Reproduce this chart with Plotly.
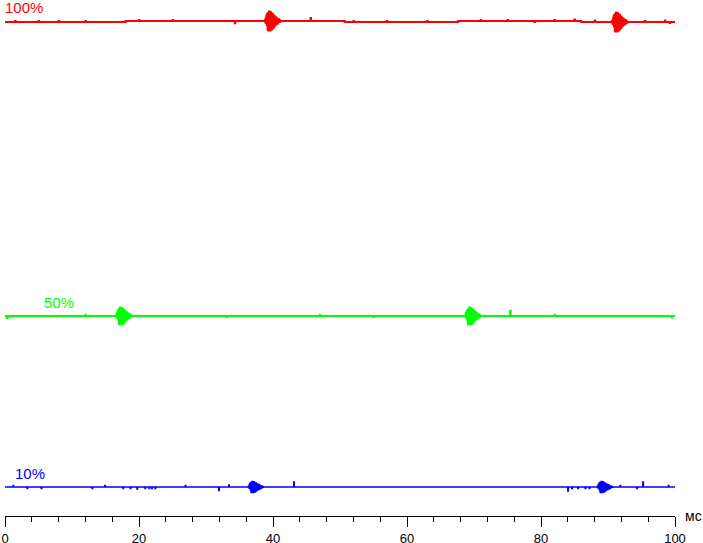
import plotly.graph_objects as go

# ---------------- data (time in ms, signal level in arbitrary units) ----------------
series_names = ["100%", "50%", "10%"]
series_colors = ["#FF0000", "#00FF00", "#0000FF"]

# baseline level, held as steps: (start time, level)
red_step_t = [0, 18.0, 50.7, 67.6, 86.0]
red_step_v = [98.8, 99.0, 98.8, 99.0, 98.8]
green_step_t = [0]
green_step_v = [40.0]
blue_step_t = [0]
blue_step_v = [5.8]

# start times of the flicker bursts
red_burst_t = [38.8, 90.6]
green_burst_t = [16.6, 68.7]
blue_burst_t = [36.3, 88.4]
# burst peak amplitude
red_burst_amp = 1.9
green_burst_amp = 1.7
blue_burst_amp = 1.1
burst_length_ms = 2.3
# normalised burst waveform (alternating samples)
burst_shape = [0.1, -0.15, 0.35, -0.2, 0.6, -0.45, 0.8, -0.9, 0.7, -1.0, 1.0, -0.8,
               0.9, -1.0, 0.95, -0.7, 0.85, -0.9, 0.6, -0.8, 0.75, -0.55, 0.5, -0.65,
               0.55, -0.4, 0.3, -0.45, 0.4, -0.25, 0.3, -0.3, 0.15, -0.25, 0.2, -0.1,
               0.15, -0.1, 0.06, -0.05]

# small isolated spikes: time, offset from baseline
red_spike_t = [1.5, 5.0, 8.0, 12.0, 20.0, 25.0, 34.3, 45.6, 52.0, 57.0, 63.0, 71.0,
               75.0, 79.0, 82.0, 85.0, 88.0, 95.5, 98.5, 99.2]
red_spike_v = [0.2, 0.2, 0.2, 0.2, 0.2, 0.2, -0.45, 0.6, 0.2, 0.2, 0.2, 0.2,
               0.2, -0.2, 0.2, 0.3, 0.3, 0.2, 0.3, -0.2]
green_spike_t = [0.3, 12.0, 33.0, 47.0, 55.0, 75.4, 82.0, 99.5]
green_spike_v = [-0.4, 0.2, -0.2, 0.2, -0.2, 1.0, 0.2, -0.3]
blue_spike_t = [1.2, 3.3, 5.4, 13.0, 14.9, 17.6, 18.7, 19.7, 20.9, 21.5, 21.9, 22.4,
                26.9, 31.9, 33.4, 43.1, 84.0, 84.6, 85.5, 86.6, 87.2, 91.8, 94.3, 95.2, 99.0]
blue_spike_v = [0.3, -0.3, -0.3, -0.3, 0.3, -0.3, -0.3, -0.4, -0.3, -0.3, -0.3, -0.3,
                0.3, -0.7, 0.4, 1.0, -0.8, -0.3, -0.3, -0.3, -0.3, 0.3, -0.3, 1.0, 0.3]

x_tick_vals = [0, 20, 40, 60, 80, 100]
x_tick_text = ["0", "20", "40", "60", "80", "100"]
x_unit = "мс"

T_END = 100.0


def level_at(t, step_t, step_v):
    lv = step_v[0]
    for st, sv in zip(step_t, step_v):
        if st <= t:
            lv = sv
    return lv


def build(step_t, step_v, burst_t, amp, spike_t, spike_v):
    pts = [(st, sv) for st, sv in zip(step_t, step_v)]
    for t, d in zip(spike_t, spike_v):
        base = level_at(t, step_t, step_v)
        pts.append((t, base + d))
        pts.append((t + 0.08, base))
    dt = burst_length_ms / len(burst_shape)
    for t0 in burst_t:
        base = level_at(t0, step_t, step_v)
        for k, s in enumerate(burst_shape):
            pts.append((t0 + k * dt, base + amp * s))
        pts.append((t0 + len(burst_shape) * dt, base))
    pts.append((T_END, level_at(T_END, step_t, step_v)))
    pts.sort(key=lambda p: p[0])
    return [p[0] for p in pts], [p[1] for p in pts]


series = [
    build(red_step_t, red_step_v, red_burst_t, red_burst_amp, red_spike_t, red_spike_v),
    build(green_step_t, green_step_v, green_burst_t, green_burst_amp, green_spike_t, green_spike_v),
    build(blue_step_t, blue_step_v, blue_burst_t, blue_burst_amp, blue_spike_t, blue_spike_v),
]
widths = [2, 2, 1.5]

fig = go.Figure()
for (xs, ys), name, col, w in zip(series, series_names, series_colors, widths):
    fig.add_trace(go.Scatter(x=xs, y=ys, mode="lines", name=name,
                             line=dict(color=col, width=w, shape="hv"),
                             hoverinfo="skip", cliponaxis=False))

label_pos = [(-0.003, 0.986), (0.055, 0.413), (0.012, 0.083)]
annotations = []
for name, col, (px, py) in zip(series_names, series_colors, label_pos):
    annotations.append(dict(text=name, x=px, y=py, xref="paper", yref="paper",
                            xanchor="left", yanchor="middle", showarrow=False,
                            font=dict(family="Liberation Sans, Arial, sans-serif", size=15, color=col)))
annotations.append(dict(text=x_unit, x=1.028, y=0.0, xref="paper", yref="paper",
                        xanchor="center", yanchor="middle", showarrow=False,
                        font=dict(family="Liberation Sans, Arial, sans-serif", size=14, color="black")))

fig.update_layout(
    width=703, height=543,
    margin=dict(l=5, r=28, t=0, b=27, pad=0, autoexpand=False),
    paper_bgcolor="white", plot_bgcolor="white",
    showlegend=False,
    annotations=annotations,
    xaxis=dict(range=[0, 100], showgrid=False, zeroline=False, automargin=False,
               showline=True, linecolor="black", linewidth=1,
               ticks="outside", ticklen=10, tickwidth=1, tickcolor="black",
               tickvals=x_tick_vals, ticktext=x_tick_text,
               tickfont=dict(family="Liberation Sans Narrow, Arial Narrow, Liberation Sans, sans-serif",
                             size=13, color="black"),
               minor=dict(dtick=4, tick0=0, ticks="outside", ticklen=5, tickwidth=1,
                          tickcolor="black", showgrid=False),
               fixedrange=True),
    yaxis=dict(range=[0, 103.2], visible=False, showgrid=False, zeroline=False,
               automargin=False, fixedrange=True),
)

fig.write_html("out.html", config={"displayModeBar": False},
               post_script="document.body.style.margin='0';document.body.style.overflow='hidden';")
